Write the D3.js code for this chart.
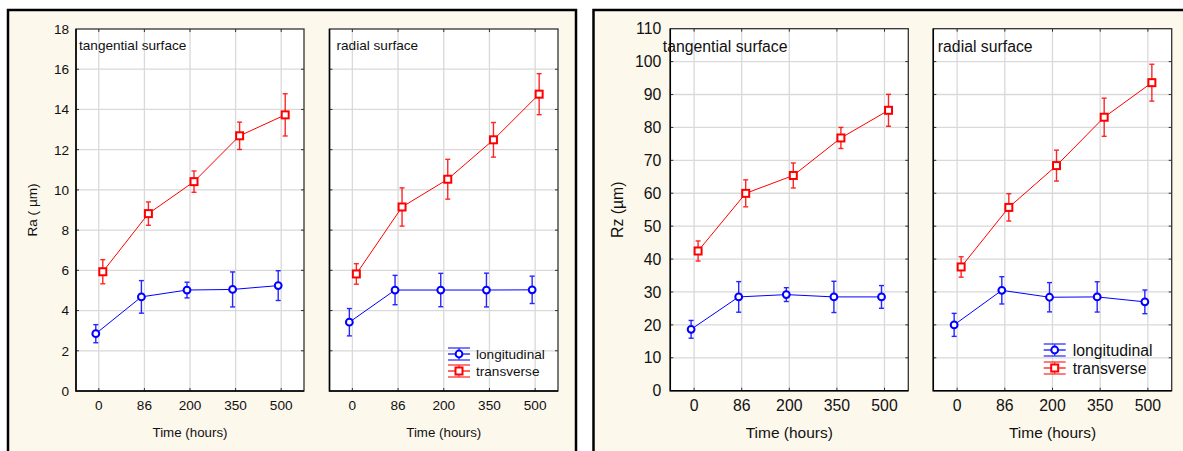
<!DOCTYPE html>
<html>
<head>
<meta charset="utf-8">
<script src="https://cdn.jsdelivr.net/npm/d3@7"></script>
<style>
  body { margin: 0; background: #fff; }
  svg { display: block; font-family: "Liberation Sans", Arial, sans-serif; }
</style>
</head>
<body>
<svg id="chart" width="1183" height="451"></svg>
<script>
// categories on the x axis
const times = ["0", "86", "200", "350", "500"];
const seriesNames = ["longitudinal", "transverse"];

// Ra, tangential surface (mean and half-width of the error bar)
const raTangLong = [2.85, 4.68, 5.02, 5.05, 5.24];
const raTangLongErr = [0.45, 0.81, 0.39, 0.87, 0.74];
const raTangTrans = [5.93, 8.82, 10.41, 12.69, 13.73];
const raTangTransErr = [0.6, 0.58, 0.53, 0.68, 1.05];

// Ra, radial surface
const raRadLong = [3.42, 5.02, 5.02, 5.02, 5.03];
const raRadLongErr = [0.68, 0.73, 0.83, 0.84, 0.68];
const raRadTrans = [5.82, 9.15, 10.53, 12.49, 14.76];
const raRadTransErr = [0.51, 0.95, 0.99, 0.86, 1.02];

// Rz, tangential surface
const rzTangLong = [18.65, 28.5, 29.2, 28.5, 28.5];
const rzTangLongErr = [2.7, 4.65, 2.1, 4.75, 3.45];
const rzTangTrans = [42.45, 59.97, 65.4, 76.8, 85.2];
const rzTangTransErr = [3.05, 4.1, 3.8, 3.2, 4.85];

// Rz, radial surface
const rzRadLong = [20.0, 30.5, 28.4, 28.5, 27.0];
const rzRadLongErr = [3.5, 4.15, 4.45, 4.6, 3.6];
const rzRadTrans = [37.6, 55.7, 68.4, 83.1, 93.6];
const rzRadTransErr = [3.1, 4.15, 4.7, 5.8, 5.6];

// y tick values
const raTicks = [0, 2, 4, 6, 8, 10, 12, 14, 16, 18];
const rzTicks = [0, 10, 20, 30, 40, 50, 60, 70, 80, 90, 100, 110];

const BLUE = "#0000ff", RED = "#ff0000", CREAM = "#fdf8ec";
const svg = d3.select("#chart");

function drawFigure(cfg) {
  const g = svg.append("g");

  // figure frame
  g.append("rect")
    .attr("x", cfg.frame[0]).attr("y", cfg.frame[1])
    .attr("width", cfg.frame[2]).attr("height", cfg.frame[3])
    .attr("fill", CREAM).attr("stroke", "#000").attr("stroke-width", 2.5);

  const y = d3.scaleLinear()
    .domain([0, d3.max(cfg.ticks)])
    .range([cfg.bottom, cfg.top]);

  cfg.panels.forEach((p, pi) => {
    const x = d3.scalePoint().domain(times).range([p.x0, p.x1]).padding(0.5);
    const pg = g.append("g");

    pg.append("rect")
      .attr("x", p.x0).attr("y", cfg.top)
      .attr("width", p.x1 - p.x0).attr("height", cfg.bottom - cfg.top)
      .attr("fill", "#fff");

    // grid
    pg.append("g").selectAll("line").data(cfg.ticks.slice(1, -1)).join("line")
      .attr("x1", p.x0).attr("x2", p.x1)
      .attr("y1", d => y(d)).attr("y2", d => y(d))
      .attr("stroke", "#d9d9d9").attr("stroke-width", 1.3);
    pg.append("g").selectAll("line").data(times).join("line")
      .attr("x1", d => x(d)).attr("x2", d => x(d))
      .attr("y1", cfg.top).attr("y2", cfg.bottom)
      .attr("stroke", "#d9d9d9").attr("stroke-width", 1.3);

    // inward ticks on all four sides
    const tk = pg.append("g").attr("stroke", "#333").attr("stroke-width", 1);
    cfg.ticks.slice(1, -1).forEach(v => {
      tk.append("line").attr("x1", p.x0).attr("x2", p.x0 + 3).attr("y1", y(v)).attr("y2", y(v));
      tk.append("line").attr("x1", p.x1).attr("x2", p.x1 - 3).attr("y1", y(v)).attr("y2", y(v));
    });
    times.forEach(t => {
      tk.append("line").attr("x1", x(t)).attr("x2", x(t)).attr("y1", cfg.top).attr("y2", cfg.top + 3);
      tk.append("line").attr("x1", x(t)).attr("x2", x(t)).attr("y1", cfg.bottom).attr("y2", cfg.bottom - 3);
    });

    // frame of the panel
    pg.append("rect")
      .attr("x", p.x0).attr("y", cfg.top)
      .attr("width", p.x1 - p.x0).attr("height", cfg.bottom - cfg.top)
      .attr("fill", "none").attr("stroke", "#333").attr("stroke-width", 1.3);
    pg.append("path")
      .attr("d", `M${p.x0},${cfg.top}V${cfg.bottom}H${p.x1}`)
      .attr("fill", "none").attr("stroke", "#000").attr("stroke-width", 1.5);

    // panel caption
    pg.append("text")
      .attr("x", p.x0 + p.titleDx).attr("y", cfg.titleY)
      .attr("font-size", cfg.fs).attr("fill", "#111")
      .text(p.title);

    // x tick labels + axis title
    pg.append("g").selectAll("text").data(times).join("text")
      .attr("x", d => x(d)).attr("y", cfg.xLabelY)
      .attr("text-anchor", "middle").attr("font-size", cfg.fs).attr("fill", "#111")
      .text(d => d);
    pg.append("text")
      .attr("x", (p.x0 + p.x1) / 2).attr("y", cfg.xTitleY)
      .attr("text-anchor", "middle").attr("font-size", cfg.fs * 0.98).attr("fill", "#111")
      .text("Time (hours)");

    // y axis labels on first panel only
    if (pi === 0) {
      pg.append("g").selectAll("text").data(cfg.ticks).join("text")
        .attr("x", p.x0 - cfg.yLabelGap).attr("y", d => y(d))
        .attr("dy", "0.36em")
        .attr("text-anchor", "end").attr("font-size", cfg.fs).attr("fill", "#111")
        .text(d => d);
      pg.append("text")
        .attr("transform", `translate(${cfg.yTitleX},${(cfg.top + cfg.bottom) / 2}) rotate(-90)`)
        .attr("text-anchor", "middle").attr("dy", "0.35em")
        .attr("font-size", cfg.fs).attr("fill", "#111")
        .text(cfg.yTitle);
    }

    const series = [
      { name: seriesNames[0], vals: p.long, errs: p.longErr, color: BLUE, dx: -3, shape: "circle" },
      { name: seriesNames[1], vals: p.trans, errs: p.transErr, color: RED, dx: 4, shape: "square" }
    ];

    series.forEach(s => {
      const pts = times.map((t, i) => ({ t, v: s.vals[i], e: s.errs[i] }));
      const sg = pg.append("g");
      sg.append("path")
        .datum(pts)
        .attr("fill", "none").attr("stroke", s.color).attr("stroke-width", 1)
        .attr("d", d3.line().x(d => x(d.t) + s.dx).y(d => y(d.v)));

      const eb = sg.append("g").attr("stroke", s.color).attr("stroke-width", 1.4).attr("opacity", 0.85);
      pts.forEach(d => {
        const cx = x(d.t) + s.dx;
        eb.append("line").attr("x1", cx).attr("x2", cx).attr("y1", y(d.v - d.e)).attr("y2", y(d.v + d.e));
        eb.append("line").attr("x1", cx - 2.5).attr("x2", cx + 2.5).attr("y1", y(d.v - d.e)).attr("y2", y(d.v - d.e));
        eb.append("line").attr("x1", cx - 2.5).attr("x2", cx + 2.5).attr("y1", y(d.v + d.e)).attr("y2", y(d.v + d.e));
      });

      drawMarker(sg, s.shape, s.color, pts.map(d => [x(d.t) + s.dx, y(d.v)]));
    });

    // legend
    if (p.legend) {
      series.forEach((s, i) => {
        const ly = cfg.legend.y[i];
        const lx0 = p.x1 - cfg.legend.dx0, lx1 = lx0 + 22, cx = (lx0 + lx1) / 2;
        const lg = pg.append("g");
        const sub = lg.append("g").attr("stroke", s.color).attr("stroke-width", 1.3).attr("opacity", 0.8);
        sub.append("line").attr("x1", lx0).attr("x2", lx1).attr("y1", ly - 6).attr("y2", ly - 6);
        sub.append("line").attr("x1", lx0).attr("x2", lx1).attr("y1", ly + 6).attr("y2", ly + 6);
        sub.append("line").attr("x1", cx).attr("x2", cx).attr("y1", ly - 6).attr("y2", ly + 6);
        lg.append("line").attr("x1", lx0).attr("x2", lx1).attr("y1", ly).attr("y2", ly)
          .attr("stroke", s.color).attr("stroke-width", 1.2);
        drawMarker(lg, s.shape, s.color, [[cx, ly]]);
        lg.append("text")
          .attr("x", lx1 + cfg.legend.textGap).attr("y", ly).attr("dy", "0.36em")
          .attr("font-size", cfg.fs).attr("fill", "#111")
          .text(s.name);
      });
    }
  });
}

function drawMarker(sel, shape, color, coords) {
  if (shape === "circle") {
    sel.append("g").selectAll("circle").data(coords).join("circle")
      .attr("cx", d => d[0]).attr("cy", d => d[1]).attr("r", 3.4)
      .attr("fill", "#fff").attr("stroke", color).attr("stroke-width", 2);
  } else {
    sel.append("g").selectAll("rect").data(coords).join("rect")
      .attr("x", d => d[0] - 3.5).attr("y", d => d[1] - 3.5)
      .attr("width", 7).attr("height", 7)
      .attr("fill", "#fff").attr("stroke", color).attr("stroke-width", 2);
  }
}

drawFigure({
  frame: [8, 10, 568, 460],
  ticks: raTicks, top: 29, bottom: 391,
  fs: 13.6, titleY: 50, xLabelY: 410, xTitleY: 437,
  yLabelGap: 7, yTitleX: 32, yTitle: "Ra ( µm)",
  legend: { dx0: 110, y: [354, 371], textGap: 6 },
  panels: [
    { x0: 76, x1: 304, title: "tangential surface", titleDx: 3,
      long: raTangLong, longErr: raTangLongErr, trans: raTangTrans, transErr: raTangTransErr },
    { x0: 329.5, x1: 558, title: "radial surface", titleDx: 7, legend: true,
      long: raRadLong, longErr: raRadLongErr, trans: raRadTrans, transErr: raRadTransErr }
  ]
});

drawFigure({
  frame: [593.5, 10, 620, 460],
  ticks: rzTicks, top: 28.7, bottom: 390.7,
  fs: 15.8, titleY: 51.5, xLabelY: 411, xTitleY: 438,
  yLabelGap: 9, yTitleX: 617, yTitle: "Rz (µm)",
  legend: { dx0: 128, y: [350, 368], textGap: 7 },
  panels: [
    { x0: 670.3, x1: 908.3, title: "tangential surface", titleDx: -7.5,
      long: rzTangLong, longErr: rzTangLongErr, trans: rzTangTrans, transErr: rzTangTransErr },
    { x0: 933.3, x1: 1171.7, title: "radial surface", titleDx: 4.5, legend: true,
      long: rzRadLong, longErr: rzRadLongErr, trans: rzRadTrans, transErr: rzRadTransErr }
  ]
});
</script>
</body>
</html>
